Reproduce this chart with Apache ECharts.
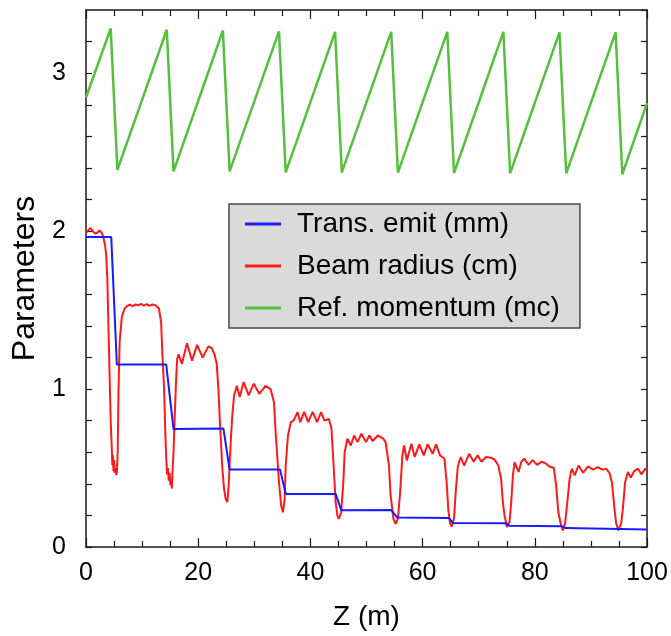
<!DOCTYPE html>
<html>
<head>
<meta charset="utf-8">
<script src="https://cdn.jsdelivr.net/npm/echarts@6/dist/echarts.min.js"></script>
<style>
html,body{margin:0;padding:0;background:#fff;}
#c{width:671px;height:636px;}
</style>
</head>
<body>
<div id="c"></div>
<script>
// ---- data ----
var seriesNames = ['Trans. emit (mm)', 'Beam radius (cm)', 'Ref. momentum (mc)'];
var xTicks = [0, 20, 40, 60, 80, 100];
var yTicks = [0, 1, 2, 3];

var emittance = [
  [0,1.962],[4.5,1.962],[5.5,1.155],[14.3,1.155],[15.6,0.747],[24.5,0.75],
  [25.6,0.49],[34.6,0.49],[35.6,0.336],[44.5,0.336],[45.5,0.233],[54.4,0.234],
  [55.5,0.186],[64.7,0.183],[65.4,0.152],[74.7,0.15],[75.5,0.135],[84.8,0.132],
  [85.5,0.12],[100,0.111]
];

var beamRadius = [
  [0,1.99],[0.4,2.005],[0.8,2.02],[1.2,2.0],[1.6,1.985],[2.0,1.99],[2.4,2.005],[2.8,1.99],
  [3.1,1.96],[3.4,1.91],[3.6,1.85],[3.8,1.7],[4.0,1.4],[4.2,1.1],[4.4,0.8],[4.6,0.62],
  [4.7,0.52],[4.8,0.58],[4.9,0.48],[5.0,0.55],[5.1,0.47],[5.25,0.5],[5.4,0.455],[5.5,0.47],
  [5.65,0.6],[5.8,1.0],[6.0,1.3],[6.4,1.46],[6.9,1.51],[7.3,1.525],
  [7.8,1.535],[8.3,1.525],[8.8,1.535],[9.3,1.53],[9.8,1.54],[10.3,1.528],[10.8,1.538],
  [11.3,1.527],[11.8,1.535],[12.4,1.53],[13.0,1.51],[13.4,1.42],[13.6,1.23],[13.9,1.02],
  [14.15,0.71],[14.3,0.56],[14.45,0.46],[14.6,0.5],[14.75,0.42],[14.9,0.47],[15.05,0.39],
  [15.2,0.42],[15.3,0.37],[15.45,0.5],[15.6,0.6],[15.8,0.81],[16.05,1.05],[16.25,1.19],
  [16.5,1.22],[17.1,1.16],[18.0,1.29],[18.9,1.18],[19.8,1.28],[20.8,1.2],[21.8,1.27],
  [22.4,1.26],[22.9,1.22],[23.3,1.16],[23.6,1.0],[23.9,0.77],[24.3,0.5],[24.6,0.37],
  [24.9,0.305],[25.2,0.285],[25.45,0.4],[25.6,0.52],[25.85,0.7],[26.07,0.83],[26.4,0.96],
  [26.9,1.02],[27.4,0.95],[28.1,1.044],[29.0,0.96],[29.9,1.034],[30.9,0.97],[32.0,1.02],
  [32.9,1.0],[33.5,0.918],[33.8,0.73],[34.4,0.41],[34.8,0.26],[35.1,0.22],[35.4,0.3],
  [35.6,0.516],[36.0,0.706],[36.5,0.79],
  [37.0,0.8],[37.7,0.854],[38.2,0.79],[38.9,0.856],[39.6,0.79],[40.4,0.856],[41.2,0.79],
  [41.9,0.854],[42.5,0.8],[43.3,0.81],[43.75,0.75],[44.1,0.54],[44.5,0.285],[44.8,0.2],
  [45.1,0.179],[45.5,0.22],[45.9,0.43],[46.1,0.6],[46.6,0.685],
  [47.2,0.643],[47.8,0.706],[48.4,0.664],[49.1,0.717],[49.9,0.664],[50.5,0.706],
  [51.1,0.67],[52.0,0.706],[52.9,0.69],[53.4,0.664],[54.0,0.516],[54.3,0.327],[54.8,0.179],
  [55.2,0.147],[55.6,0.18],[56.0,0.348],[56.4,0.58],[56.7,0.643],
  [57.2,0.548],[58.0,0.654],[58.6,0.57],[59.4,0.65],[60.2,0.58],[60.9,0.65],[61.8,0.59],
  [62.4,0.65],[63.1,0.58],[63.9,0.56],[64.3,0.4],[64.6,0.23],[64.9,0.15],[65.2,0.13],
  [65.6,0.18],[65.9,0.348],[66.25,0.5],[66.5,0.54],
  [66.8,0.57],[67.4,0.516],[68.3,0.59],[69.1,0.54],[69.8,0.58],[70.5,0.54],[71.3,0.57],
  [72.2,0.565],[72.8,0.555],[73.5,0.516],[74.0,0.43],[74.3,0.285],[74.6,0.2],[75.05,0.127],
  [75.5,0.16],[75.8,0.285],[76.1,0.453],[76.4,0.538],
  [76.7,0.53],[77.1,0.475],[77.6,0.54],[78.1,0.56],[78.9,0.52],[79.6,0.55],[80.4,0.52],
  [81.2,0.54],[81.9,0.53],[82.6,0.51],[83.4,0.5],[83.8,0.39],[84.2,0.22],[84.6,0.15],
  [85.0,0.105],[85.4,0.15],[85.8,0.285],[86.2,0.43],[86.6,0.496],
  [87.1,0.453],[87.8,0.516],[88.6,0.47],[89.5,0.51],[90.4,0.49],[91.2,0.505],[92.1,0.49],
  [92.7,0.496],[93.3,0.47],[93.75,0.41],[94.2,0.243],[94.5,0.15],[94.9,0.105],[95.4,0.15],
  [95.7,0.243],[96.1,0.41],[96.6,0.475],[97.1,0.44],[97.7,0.48],[98.4,0.496],[99.0,0.46],
  [99.7,0.496],[100,0.485]
];

var momentum = [
  [0,2.846],[4.4,3.283],[5.6,2.388],[14.4,3.275],[15.6,2.378],[24.4,3.27],[25.6,2.378],
  [34.4,3.265],[35.6,2.372],[44.4,3.262],[45.6,2.372],[54.4,3.262],[55.6,2.37],
  [64.4,3.262],[65.6,2.368],[74.4,3.262],[75.6,2.366],[84.4,3.258],[85.6,2.366],
  [94.4,3.258],[95.6,2.36],[100,2.81]
];

var FONT = '"Liberation Sans", Arial, Helvetica, sans-serif';
var chart = echarts.init(document.getElementById('c'), null, {renderer: 'canvas'});

function isTick(list, v) {
  for (var i = 0; i < list.length; i++) if (Math.abs(list[i] - v) < 1e-6) return list[i];
  return null;
}

var lineCol = '#1a1a1a';
var baseX = {
  type: 'value', min: 0, max: 100, interval: 20,
  axisLine: {show: true, onZero: false, lineStyle: {color: lineCol, width: 1.5}},
  axisTick: {show: true, inside: true, length: 9, lineStyle: {color: lineCol, width: 1.2}},
  minorTick: {show: true, splitNumber: 4, length: 6, lineStyle: {color: lineCol, width: 1.2}},
  splitLine: {show: false}
};
var baseY = {
  type: 'value', min: 0, max: 3.4, interval: 0.2,
  axisLine: {show: true, onZero: false, lineStyle: {color: lineCol, width: 1.5}},
  axisTick: {show: true, inside: true, length: 6, lineStyle: {color: lineCol, width: 1.2}},
  splitLine: {show: false}
};

var option = {
  backgroundColor: '#ffffff',
  animation: false,
  grid: {left: 86, right: 24, top: 10, bottom: 88, containLabel: false},
  legend: {
    orient: 'vertical',
    left: 229, top: 204,
    width: 356,
    backgroundColor: '#dadada',
    borderColor: '#4a4a4a', borderWidth: 1.5, borderRadius: 0,
    padding: [6, 20, 6, 16],
    itemGap: 14,
    itemWidth: 36, itemHeight: 3,
    textStyle: {fontFamily: FONT, fontSize: 28, color: '#000', padding: [0, 0, 0, 11]},
    data: [
      {name: seriesNames[0], icon: 'rect', itemStyle: {color: '#1a1aff'}},
      {name: seriesNames[1], icon: 'rect', itemStyle: {color: '#ff1a1a'}},
      {name: seriesNames[2], icon: 'rect', itemStyle: {color: '#55c03f'}}
    ]
  },
  xAxis: [
    echarts.util.merge({
      position: 'bottom',
      name: 'Z (m)', nameLocation: 'middle', nameGap: 56,
      nameTextStyle: {fontFamily: FONT, fontSize: 28, color: '#000'},
      axisLabel: {show: true, margin: 14, fontFamily: FONT, fontSize: 25, color: '#000',
        formatter: function (v) { var t = isTick(xTicks, v); return t === null ? '' : String(t); }}
    }, baseX, true),
    echarts.util.merge({position: 'top', axisLabel: {show: false}}, baseX, true)
  ],
  yAxis: [
    echarts.util.merge({
      position: 'left',
      name: 'Parameters', nameLocation: 'middle', nameGap: 44,
      nameTextStyle: {fontFamily: FONT, fontSize: 32, color: '#000'},
      axisLabel: {show: true, margin: 20, fontFamily: FONT, fontSize: 25, color: '#000',
        showMaxLabel: false,
        formatter: function (v) { var t = isTick(yTicks, v); return t === null ? '' : String(t); }}
    }, baseY, true),
    echarts.util.merge({position: 'right', axisLabel: {show: false}}, baseY, true)
  ],
  series: [
    {name: seriesNames[0], type: 'line', data: emittance, showSymbol: false, symbol: 'none',
      xAxisIndex: 0, yAxisIndex: 0, z: 3,
      lineStyle: {color: '#1a1aff', width: 2}, itemStyle: {color: '#1a1aff'}},
    {name: seriesNames[1], type: 'line', data: beamRadius, showSymbol: false, symbol: 'none',
      xAxisIndex: 0, yAxisIndex: 0, z: 2,
      lineStyle: {color: '#ff1a1a', width: 2}, itemStyle: {color: '#ff1a1a'}},
    {name: seriesNames[2], type: 'line', data: momentum, showSymbol: false, symbol: 'none',
      xAxisIndex: 0, yAxisIndex: 0, z: 2,
      lineStyle: {color: '#55c03f', width: 2.5}, itemStyle: {color: '#55c03f'}}
  ]
};
chart.setOption(option);
</script>
</body>
</html>
